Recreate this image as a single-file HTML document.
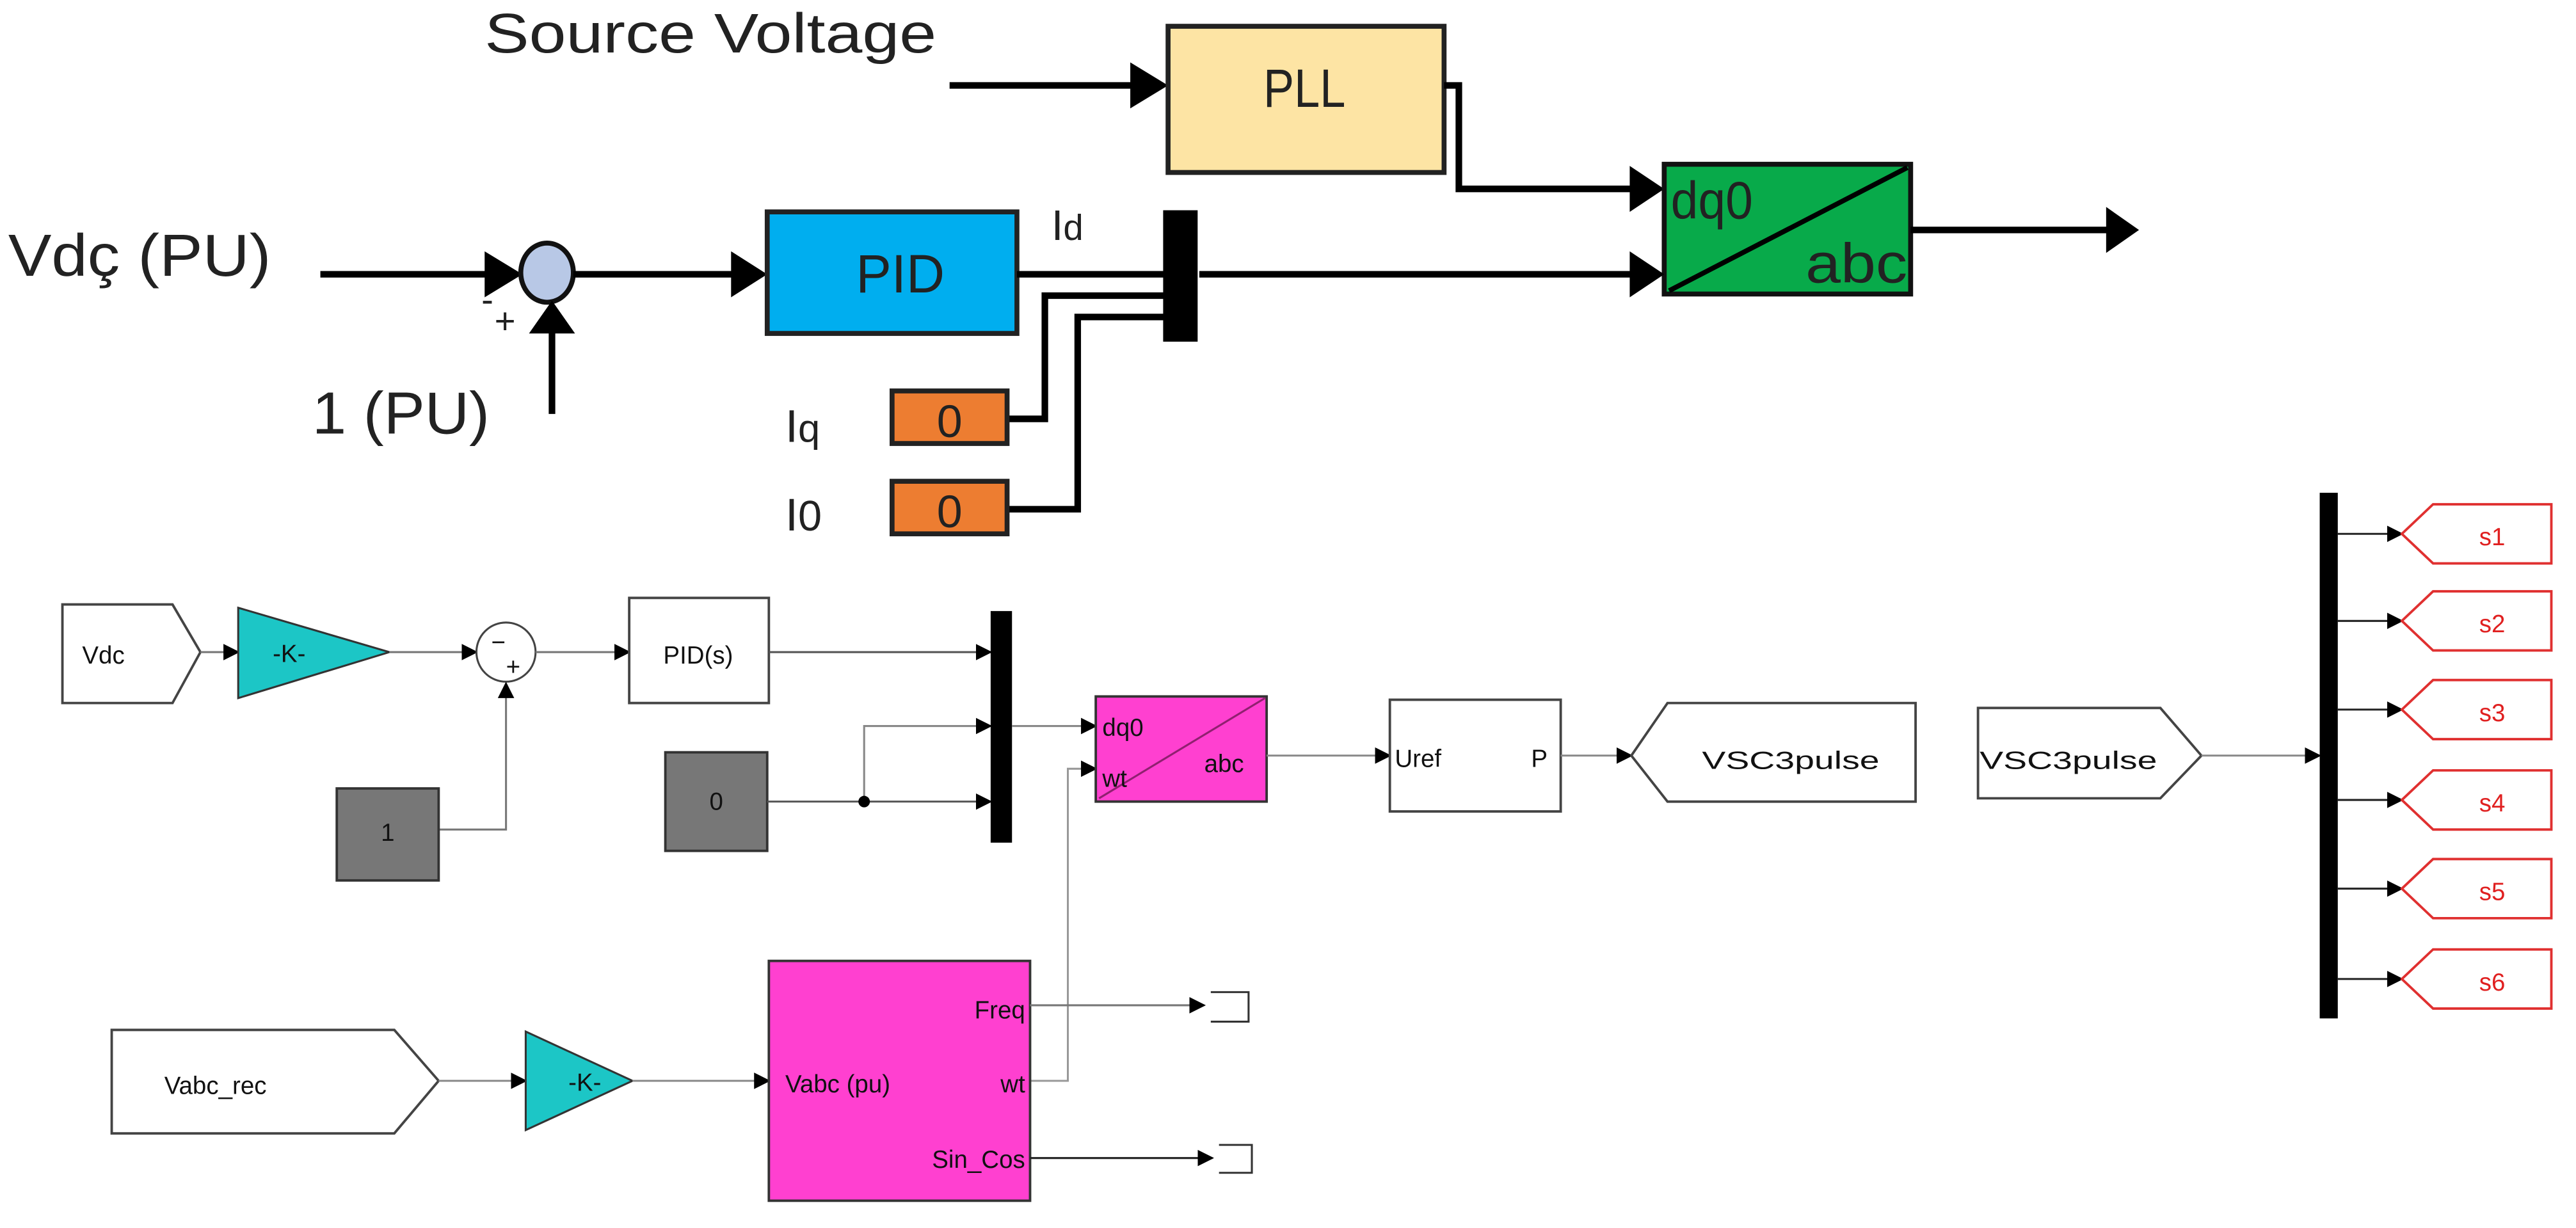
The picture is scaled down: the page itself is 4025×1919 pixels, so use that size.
<!DOCTYPE html>
<html><head><meta charset="utf-8"><style>
html,body{margin:0;padding:0;background:#fff;}
svg{display:block;}
.top{font-family:"Liberation Sans",sans-serif;fill:#222;}
.bt{font-family:"Liberation Sans",sans-serif;font-size:15px;fill:#111;}
</style></head><body>
<svg width="4025" height="1919" viewBox="0 0 1568 747.6" preserveAspectRatio="none" xmlns="http://www.w3.org/2000/svg">
<defs>
<marker id="A" markerWidth="10" markerHeight="10" refX="9" refY="5" orient="auto" markerUnits="userSpaceOnUse" viewBox="0 0 10 10"><path d="M0,0 L10,5 L0,10 Z" fill="#000"/></marker>
</defs>
<!-- TOP SECTION -->
<g stroke="#000" stroke-width="4" fill="none">
<line x1="578" y1="52" x2="690" y2="52"/>
<path d="M688,38 L711,52 L688,66 Z" fill="#000" stroke="none"/>
<rect x="711" y="16" width="168" height="89" fill="#fde4a4" stroke="#222" stroke-width="3"/>
<path d="M879,52 H888 V115 H995"/>
<path d="M992,101 L1013,115 L992,129 Z" fill="#000" stroke="none"/>
<rect x="1013" y="100" width="150" height="79" fill="#08aa4a" stroke="#111" stroke-width="3"/>
<line x1="1016" y1="177" x2="1161" y2="102" stroke-width="3"/>
<line x1="1163" y1="140" x2="1285" y2="140"/>
<path d="M1282,126 L1302,140 L1282,154 Z" fill="#000" stroke="none"/>
<line x1="730" y1="167" x2="995" y2="167"/>
<path d="M992,153 L1013,167 L992,181 Z" fill="#000" stroke="none"/>

<line x1="195" y1="167" x2="300" y2="167"/>
<path d="M295,153 L318,167 L295,181 Z" fill="#000" stroke="none"/>
<ellipse cx="333" cy="166" rx="16" ry="18" fill="#b8c8e6" stroke="#111" stroke-width="3"/>
<line x1="336" y1="252" x2="336" y2="200"/>
<path d="M322,203 L336,183 L350,203 Z" fill="#000" stroke="none"/>
<line x1="349" y1="167" x2="450" y2="167"/>
<path d="M445,153 L467,167 L445,181 Z" fill="#000" stroke="none"/>
<rect x="467" y="129" width="152" height="74" fill="#00aeef" stroke="#222" stroke-width="3"/>
<line x1="619" y1="167" x2="710" y2="167"/>
<rect x="708" y="128" width="21" height="80" fill="#000" stroke="none"/>
<path d="M614,255 H636 V180 H710" />
<path d="M614,310 H656 V193 H710" />
<rect x="543" y="238" width="70" height="32" fill="#ed7d31" stroke="#222" stroke-width="3"/>
<rect x="543" y="293" width="70" height="32" fill="#ed7d31" stroke="#222" stroke-width="3"/>
</g>
<text x="295" y="32" class="top" font-size="34" textLength="275" lengthAdjust="spacingAndGlyphs">Source Voltage</text>
<text x="521" y="178" class="top" font-size="33" textLength="54" lengthAdjust="spacingAndGlyphs">PID</text>
<text x="769" y="65" class="top" font-size="33" textLength="50" lengthAdjust="spacingAndGlyphs">PLL</text>
<text x="1017" y="133" class="top" font-size="32" fill="#063" textLength="50" lengthAdjust="spacingAndGlyphs">dq0</text>
<text x="1099" y="172" class="top" font-size="34" fill="#063" textLength="62" lengthAdjust="spacingAndGlyphs">abc</text>
<text x="640" y="146" class="top" font-size="26">I<tspan font-size="22">d</tspan></text>
<text x="5" y="168" class="top" font-size="36" textLength="160" lengthAdjust="spacingAndGlyphs">Vdç (PU)</text>
<text x="190" y="264" class="top" font-size="36" textLength="108" lengthAdjust="spacingAndGlyphs">1 (PU)</text>
<text x="293" y="190" class="top" font-size="22">-</text>
<text x="301" y="203" class="top" font-size="22">+</text>
<text x="478" y="269" class="top" font-size="28">I<tspan font-size="24">q</tspan></text>
<text x="478" y="323" class="top" font-size="28">I<tspan font-size="26">0</tspan></text>
<text x="578" y="266" class="top" font-size="28" text-anchor="middle">0</text>
<text x="578" y="321" class="top" font-size="28" text-anchor="middle">0</text>

<!-- BOTTOM SECTION -->
<g stroke="#555" stroke-width="1.2" fill="none">
<path d="M38,368 H105 L122,397 L105,428 H38 Z" fill="#fff" stroke="#444" stroke-width="1.5"/>
<line x1="122" y1="397" x2="145" y2="397" marker-end="url(#A)" stroke="#777"/>
<path d="M145,370 L237,397 L145,425 Z" fill="#1cc6c6" stroke="#333" stroke-width="1.2"/>
<line x1="237" y1="397" x2="290" y2="397" marker-end="url(#A)" stroke="#777"/>
<circle cx="308" cy="397" r="18" fill="#fff" stroke="#444" stroke-width="1.2"/>
<path d="M267,505 H308 V416" marker-end="url(#A)" stroke="#777"/>
<rect x="205" y="480" width="62" height="56" fill="#777" stroke="#333" stroke-width="1.5"/>
<line x1="326" y1="397" x2="383" y2="397" marker-end="url(#A)" stroke="#777"/>
<rect x="383" y="364" width="85" height="64" fill="#fff" stroke="#444" stroke-width="1.5"/>
<line x1="468" y1="397" x2="603" y2="397" marker-end="url(#A)" stroke="#555"/>
<rect x="405" y="458" width="62" height="60" fill="#777" stroke="#333" stroke-width="1.5"/>
<line x1="467" y1="488" x2="603" y2="488" marker-end="url(#A)" stroke="#555"/>
<path d="M526,488 V442 H603" marker-end="url(#A)" stroke="#888"/>
<circle cx="526" cy="488" r="3.5" fill="#000" stroke="none"/>
<rect x="603" y="372" width="13" height="141" fill="#000" stroke="none"/>
<line x1="616" y1="442" x2="667" y2="442" marker-end="url(#A)" stroke="#888"/>
<path d="M627,658 H650 V468 H667" marker-end="url(#A)" stroke="#999"/>
<rect x="667" y="424" width="104" height="64" fill="#ff40d0" stroke="#333" stroke-width="1.5"/>
<line x1="669" y1="486" x2="770" y2="425" stroke="#902070" stroke-width="1.2"/>
<line x1="771" y1="460" x2="846" y2="460" marker-end="url(#A)" stroke="#888"/>
<rect x="846" y="426" width="104" height="68" fill="#fff" stroke="#444" stroke-width="1.5"/>
<line x1="950" y1="460" x2="993" y2="460" marker-end="url(#A)" stroke="#888"/>
<path d="M993,460 L1015,428 H1166 V488 H1015 Z" fill="#fff" stroke="#444" stroke-width="1.5"/>
<path d="M1204,431 H1315 L1340,460 L1315,486 H1204 Z" fill="#fff" stroke="#444" stroke-width="1.5"/>
<line x1="1340" y1="460" x2="1412" y2="460" marker-end="url(#A)" stroke="#888"/>
<rect x="1412" y="300" width="11" height="320" fill="#000" stroke="none"/>
<path d="M68,627 H240 L267,658 L240,690 H68 Z" fill="#fff" stroke="#444" stroke-width="1.5"/>
<line x1="267" y1="658" x2="320" y2="658" marker-end="url(#A)" stroke="#888"/>
<path d="M320,628 L385,658 L320,688 Z" fill="#1cc6c6" stroke="#333" stroke-width="1.2"/>
<line x1="385" y1="658" x2="468" y2="658" marker-end="url(#A)" stroke="#888"/>
<rect x="468" y="585" width="159" height="146" fill="#ff40d0" stroke="#333" stroke-width="1.5"/>
<line x1="627" y1="612" x2="733" y2="612" marker-end="url(#A)" stroke="#777"/>
<path d="M737,604 H760 V622 H737" stroke="#333"/>
<line x1="627" y1="705" x2="738" y2="705" marker-end="url(#A)" stroke="#222"/>
<path d="M742,697 H762 V714 H742" stroke="#333"/>
<g stroke="#222">
<line x1="1423" y1="325" x2="1462" y2="325" marker-end="url(#A)"/>
<line x1="1423" y1="378" x2="1462" y2="378" marker-end="url(#A)"/>
<line x1="1423" y1="432" x2="1462" y2="432" marker-end="url(#A)"/>
<line x1="1423" y1="487" x2="1462" y2="487" marker-end="url(#A)"/>
<line x1="1423" y1="541" x2="1462" y2="541" marker-end="url(#A)"/>
<line x1="1423" y1="596" x2="1462" y2="596" marker-end="url(#A)"/>
</g>
<g stroke="#e03030" stroke-width="1.5" fill="#fff">
<path d="M1462,325 L1481,307 H1553 V343 H1481 Z"/>
<path d="M1462,378 L1481,360 H1553 V396 H1481 Z"/>
<path d="M1462,432 L1481,414 H1553 V450 H1481 Z"/>
<path d="M1462,487 L1481,469 H1553 V505 H1481 Z"/>
<path d="M1462,541 L1481,523 H1553 V559 H1481 Z"/>
<path d="M1462,596 L1481,578 H1553 V614 H1481 Z"/>
</g>
</g>
<text x="50" y="404" class="bt" font-size="18">Vdc</text>
<text x="176" y="403" class="bt" font-size="16" text-anchor="middle">-K-</text>
<text x="356" y="664" class="bt" font-size="16" text-anchor="middle">-K-</text>
<text x="299" y="396" class="bt" font-size="11">−</text>
<text x="308" y="411" class="bt" font-size="11">+</text>
<text x="236" y="512" class="bt" text-anchor="middle">1</text>
<text x="436" y="493" class="bt" text-anchor="middle">0</text>
<text x="425" y="404" class="bt" font-size="19" text-anchor="middle">PID(s)</text>
<text x="671" y="448" class="bt" font-size="18" fill="#501040">dq0</text>
<text x="671" y="479" class="bt" font-size="18" fill="#501040">wt</text>
<text x="733" y="470" class="bt" font-size="18" fill="#501040">abc</text>
<text x="849" y="467" class="bt" font-size="18">Uref</text>
<text x="932" y="467" class="bt" font-size="18">P</text>
<text x="1036" y="468" class="bt" font-size="19" textLength="108" lengthAdjust="spacingAndGlyphs">VSC3pulse</text>
<text x="1205" y="468" class="bt" font-size="19" textLength="108" lengthAdjust="spacingAndGlyphs">VSC3pulse</text>
<text x="100" y="666" class="bt" font-size="19">Vabc_rec</text>
<text x="624" y="620" class="bt" font-size="17" fill="#501040" text-anchor="end">Freq</text>
<text x="478" y="665" class="bt" font-size="17" fill="#501040">Vabc (pu)</text>
<text x="624" y="665" class="bt" font-size="17" fill="#501040" text-anchor="end">wt</text>
<text x="624" y="711" class="bt" font-size="17" fill="#501040" text-anchor="end">Sin_Cos</text>
<g class="bt" font-size="18" text-anchor="middle">
<text x="1517" y="332" fill="#e02020">s1</text>
<text x="1517" y="385" fill="#e02020">s2</text>
<text x="1517" y="439" fill="#e02020">s3</text>
<text x="1517" y="494" fill="#e02020">s4</text>
<text x="1517" y="548" fill="#e02020">s5</text>
<text x="1517" y="603" fill="#e02020">s6</text>
</g>
</svg>
</body></html>
